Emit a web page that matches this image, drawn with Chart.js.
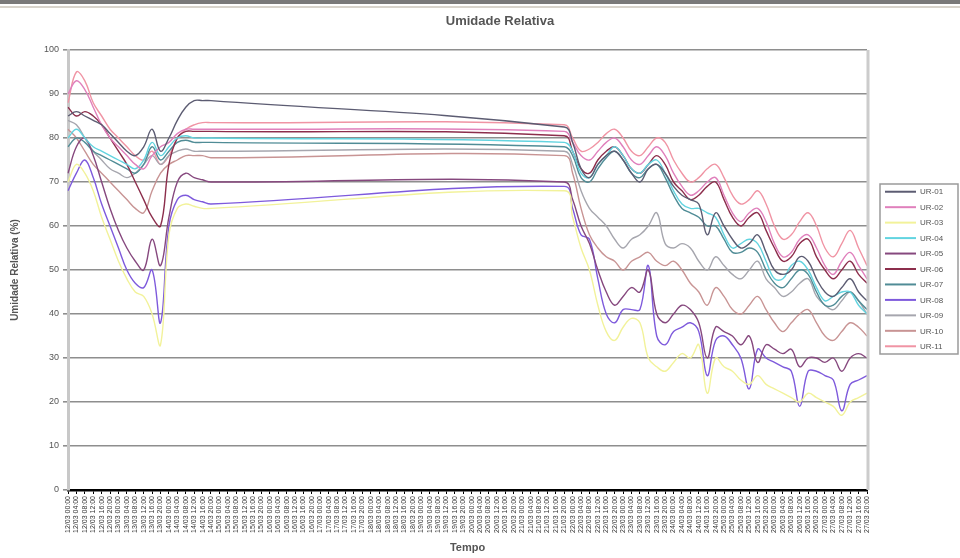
<!DOCTYPE html>
<html lang="pt">
<head>
<meta charset="utf-8">
<title>Umidade Relativa</title>
<script src="https://cdn.jsdelivr.net/npm/chart.js@4.4.1/dist/chart.umd.min.js"></script>
<style>
  html, body { margin: 0; padding: 0; background: #ffffff; }
  #wrap { width: 960px; height: 558px; position: relative; }
  canvas { display: block; }
</style>
</head>
<body>
<div id="wrap"><canvas id="ur" width="960" height="558"></canvas></div>
<script>
// Leituras a cada 4 horas (dd/mm hh:mm)
const tempo = [
  "12/03 00:00","12/03 04:00","12/03 08:00","12/03 12:00","12/03 16:00","12/03 20:00",
  "13/03 00:00","13/03 04:00","13/03 08:00","13/03 12:00","13/03 16:00","13/03 20:00",
  "14/03 00:00","14/03 04:00","14/03 08:00","14/03 12:00","14/03 16:00","14/03 20:00",
  "15/03 00:00","15/03 04:00","15/03 08:00","15/03 12:00","15/03 16:00","15/03 20:00",
  "16/03 00:00","16/03 04:00","16/03 08:00","16/03 12:00","16/03 16:00","16/03 20:00",
  "17/03 00:00","17/03 04:00","17/03 08:00","17/03 12:00","17/03 16:00","17/03 20:00",
  "18/03 00:00","18/03 04:00","18/03 08:00","18/03 12:00","18/03 16:00","18/03 20:00",
  "19/03 00:00","19/03 04:00","19/03 08:00","19/03 12:00","19/03 16:00","19/03 20:00",
  "20/03 00:00","20/03 04:00","20/03 08:00","20/03 12:00","20/03 16:00","20/03 20:00",
  "21/03 00:00","21/03 04:00","21/03 08:00","21/03 12:00","21/03 16:00","21/03 20:00",
  "22/03 00:00","22/03 04:00","22/03 08:00","22/03 12:00","22/03 16:00","22/03 20:00",
  "23/03 00:00","23/03 04:00","23/03 08:00","23/03 12:00","23/03 16:00","23/03 20:00",
  "24/03 00:00","24/03 04:00","24/03 08:00","24/03 12:00","24/03 16:00","24/03 20:00",
  "25/03 00:00","25/03 04:00","25/03 08:00","25/03 12:00","25/03 16:00","25/03 20:00",
  "26/03 00:00","26/03 04:00","26/03 08:00","26/03 12:00","26/03 16:00","26/03 20:00",
  "27/03 00:00","27/03 04:00","27/03 08:00","27/03 12:00","27/03 16:00","27/03 20:00"
];

// Nomes dos sensores
const sensores = ["UR-01","UR-02","UR-03","UR-04","UR-05","UR-06","UR-07","UR-08","UR-09","UR-10","UR-11"];

// Periodo sem registros (15/03 00:00 a 21/03 16:00)
const semDados = [null,null,null,null,null,null,null,null,null,null,null,null,null,null,null,null,null,null,null,null,
                  null,null,null,null,null,null,null,null,null,null,null,null,null,null,null,null,null,null,null,null,null];

// Umidade relativa (%) - primeiro trecho (12/03 00:00 a 14/03 20:00)
const ur01a = [85, 86, 85, 84, 83, 81, 79, 77, 76, 78, 82, 77, 80, 84, 87, 88.5, 88.5, 88.5];
const ur02a = [90, 93, 91, 87, 83, 80, 78, 76, 74, 73, 76, 78, 79, 81, 82, 82, 82, 82];
const ur03a = [70, 74, 72, 68, 62, 57, 52, 48, 45, 44, 40, 33, 58, 64, 65, 64.5, 64, 64];
const ur04a = [80, 82, 80, 78, 77, 76, 75, 74, 73, 75, 79, 76, 78, 80, 80.5, 80, 80, 80];
const ur05a = [72, 78, 80, 76, 70, 64, 59, 55, 52, 50, 57, 51, 62, 70, 72, 71, 70.5, 70];
const ur06a = [87, 85, 86, 85, 83, 80, 77, 74, 70, 66, 62, 60, 74, 80, 81.5, 81.5, 81.5, 81.5];
const ur07a = [78, 80, 79, 77, 76, 75, 74, 73, 72, 74, 78, 75, 77, 79, 79.5, 79, 79, 79];
const ur08a = [68, 72, 75, 71, 65, 60, 55, 50, 47, 46, 50, 38, 60, 66, 67, 66, 65.5, 65];
const ur09a = [84, 83, 80, 77, 75, 73, 72, 71, 72, 74, 76, 74, 76, 77, 77.5, 77, 77, 77];
const ur10a = [82, 80, 77, 74, 72, 70, 68, 66, 64, 63, 68, 72, 74, 75, 76, 76, 76, 75.5];
const ur11a = [88, 95, 93, 88, 85, 82, 80, 78, 76, 75, 77, 74, 76, 80, 82, 83, 83.5, 83.5];

// Umidade relativa (%) - segundo trecho (21/03 20:00 a 27/03 20:00)
const ur01b = [82.5, 79, 73, 71, 74, 76, 77, 75, 72, 70, 73, 74, 72, 69, 67, 66, 65, 58, 63, 60, 57, 55, 56, 58, 54, 50, 49, 50, 53, 52, 48, 45, 44, 46, 48, 45, 43];
const ur02b = [81.5, 79, 76, 75, 77, 79, 80, 78, 75, 74, 76, 78, 76, 72, 69, 67, 68, 70, 71, 67, 63, 61, 63, 64, 61, 56, 53, 54, 57, 58, 55, 51, 49, 52, 54, 51, 48];
const ur03b = [68, 62, 55, 50, 42, 36, 34, 37, 39, 38, 30, 28, 27, 29, 31, 30, 33, 22, 30, 28, 27, 25, 24, 26, 24, 23, 22, 21, 20, 22, 21, 20, 19, 17, 20, 21, 22];
const ur04b = [79, 77, 72, 71, 74, 76, 78, 76, 73, 72, 74, 75, 72, 68, 65, 64, 64, 63, 62, 58, 55, 56, 57, 56, 52, 48, 48, 51, 52, 50, 46, 43, 44, 45, 45, 42, 40];
const ur05b = [70, 66, 60, 56, 50, 45, 42, 44, 46, 45, 50, 40, 38, 40, 42, 41, 38, 30, 37, 36, 35, 33, 35, 29, 33, 32, 31, 32, 28, 30, 30, 29, 30, 27, 30, 31, 30];
const ur06b = [80.5, 77, 73, 72, 75, 77, 78, 76, 73, 72, 74, 76, 74, 70, 68, 66, 67, 69, 70, 66, 62, 60, 62, 63, 59, 55, 52, 53, 56, 57, 53, 50, 48, 50, 52, 49, 47];
const ur07b = [78, 76, 71, 70, 73, 75.5, 77, 75, 72, 71, 73, 74, 71, 67, 64, 63, 62, 60, 60, 57, 54, 54, 55, 54, 50, 47, 46, 48, 50, 49, 45, 42, 42, 44, 45, 43, 41];
const ur08b = [69, 64, 58, 57, 48, 40, 38, 41, 41, 41, 51, 35, 33, 36, 37, 38, 36, 26, 34, 35, 33, 30, 23, 32, 30, 29, 28, 27, 19, 27, 27, 26, 25, 18, 24, 25, 26];
const ur09b = [77, 74, 68, 64, 62, 60, 57, 55, 57, 58, 60, 63, 56, 55, 56, 55, 52, 50, 53, 51, 49, 48, 50, 52, 48, 46, 44, 45, 47, 48, 44, 42, 41, 43, 45, 43, 40];
const ur10b = [76, 72, 64, 58, 55, 53, 52, 50, 52, 53, 54, 52, 51, 52, 50, 47, 45, 42, 46, 44, 41, 40, 42, 44, 41, 38, 36, 38, 40, 41, 38, 35, 34, 36, 38, 37, 35];
const ur11b = [83, 80, 77, 77.5, 79, 81, 82, 80, 77, 76, 78, 80, 79, 75, 72, 70, 71, 73, 74, 71, 67, 65, 66, 68, 65, 60, 57, 58, 61, 63, 60, 55, 53, 56, 59, 55, 51];

const cores = ["#5c5c72","#e080bc","#f2f29a","#62d4e0","#86487e","#8c2e4c","#508c96","#7e5adc","#a6a6ae","#c89494","#f094a4"];

const series = [
  ur01a.concat(semDados, ur01b), ur02a.concat(semDados, ur02b), ur03a.concat(semDados, ur03b),
  ur04a.concat(semDados, ur04b), ur05a.concat(semDados, ur05b), ur06a.concat(semDados, ur06b),
  ur07a.concat(semDados, ur07b), ur08a.concat(semDados, ur08b), ur09a.concat(semDados, ur09b),
  ur10a.concat(semDados, ur10b), ur11a.concat(semDados, ur11b)
];

// Moldura da janela, título, borda direita da área de plotagem e legenda
const decoracao = {
  id: 'decoracao',
  beforeDraw(chart) {
    const c = chart.ctx;
    c.save();
    c.fillStyle = '#ffffff';
    c.fillRect(0, 0, chart.width, chart.height);
    c.fillStyle = '#7a7a7a';
    c.fillRect(0, 0, chart.width, 4);
    c.fillStyle = '#d8d4cc';
    c.fillRect(0, 6, chart.width, 2);
    c.restore();
  },
  afterDraw(chart) {
    const c = chart.ctx;
    const a = chart.chartArea;
    c.save();
    // título
    c.fillStyle = '#555555';
    c.font = 'bold 13px "Liberation Sans", Arial, sans-serif';
    c.textAlign = 'center';
    c.textBaseline = 'middle';
    c.fillText('Umidade Relativa', 500, 21);
    // borda direita
    c.strokeStyle = '#cccccc';
    c.lineWidth = 3;
    c.beginPath();
    c.moveTo(a.right + 1, a.top);
    c.lineTo(a.right + 1, a.bottom);
    c.stroke();
    // legenda
    const x0 = 880, y0 = 184, w = 78, h = 170;
    c.fillStyle = '#ffffff';
    c.fillRect(x0, y0, w, h);
    c.strokeStyle = '#9a9a9a';
    c.lineWidth = 1.5;
    c.strokeRect(x0, y0, w, h);
    const passo = h / chart.data.datasets.length;
    c.font = '8px "Liberation Sans", Arial, sans-serif';
    c.textAlign = 'left';
    chart.data.datasets.forEach((ds, i) => {
      const y = y0 + passo * (i + 0.5);
      c.strokeStyle = ds.borderColor;
      c.lineWidth = 2;
      c.beginPath();
      c.moveTo(x0 + 5, y);
      c.lineTo(x0 + 36, y);
      c.stroke();
      c.fillStyle = '#555555';
      c.fillText(ds.label, x0 + 40, y + 0.5);
    });
    c.restore();
  }
};

new Chart(document.getElementById('ur'), {
  type: 'line',
  data: {
    labels: tempo,
    datasets: series.map((d, i) => ({
      label: sensores[i],
      data: d,
      borderColor: cores[i],
      backgroundColor: cores[i],
      borderWidth: 1.4,
      pointRadius: 0,
      tension: 0.4,
      spanGaps: true,
      fill: false
    }))
  },
  options: {
    responsive: false,
    animation: false,
    devicePixelRatio: 1,
    layout: { padding: { left: 6, right: 93, top: 50, bottom: 2 } },
    plugins: {
      legend: { display: false },
      title: { display: false },
      tooltip: { enabled: false }
    },
    scales: {
      x: {
        ticks: {
          autoSkip: false, maxRotation: 90, minRotation: 90,
          font: { size: 7, family: '"Liberation Sans", Arial, sans-serif' },
          color: '#333333', padding: 2
        },
        grid: { drawOnChartArea: false, tickLength: 4, color: '#000000', lineWidth: 1 },
        border: { color: '#000000', width: 2.5 },
        title: {
          display: true, text: 'Tempo', color: '#555555',
          font: { size: 11, weight: 'bold', family: '"Liberation Sans", Arial, sans-serif' },
          padding: { top: 0, bottom: 1 }
        },
        afterFit(s) { s.height = 66; }
      },
      y: {
        min: 0, max: 100,
        ticks: {
          stepSize: 10,
          font: { size: 9, family: '"Liberation Sans", Arial, sans-serif' },
          color: '#555555', padding: 4
        },
        grid: { color: '#8e8e8e', lineWidth: 1.6, tickLength: 5 },
        border: { color: '#c8c8c8', width: 3 },
        title: {
          display: true, text: 'Umidade Relativa (%)', color: '#555555',
          font: { size: 10, weight: 'bold', family: '"Liberation Sans", Arial, sans-serif' },
          padding: { top: 3, bottom: 0 }
        },
        afterFit(s) { s.width = 62; }
      }
    }
  },
  plugins: [decoracao]
});
</script>
</body>
</html>
